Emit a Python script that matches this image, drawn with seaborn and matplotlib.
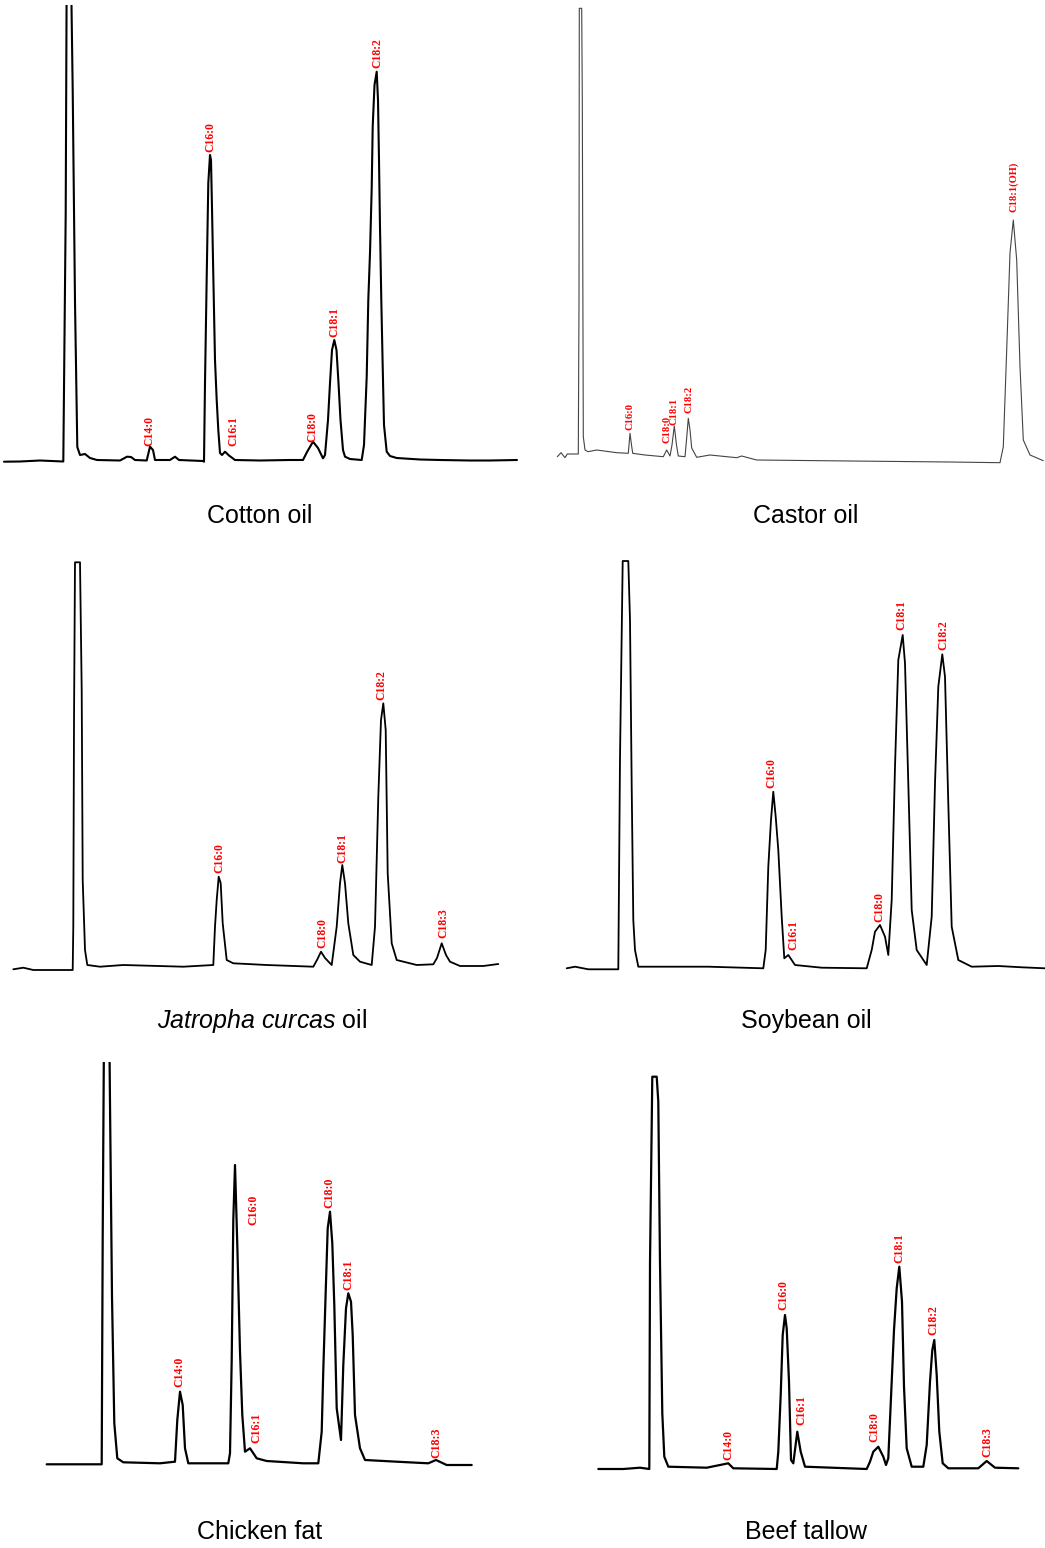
"""Six GC-FID chromatograms of fatty-acid methyl esters (2 x 3 grid)."""
import matplotlib.pyplot as plt
import pandas as pd
import seaborn as sns

W, H = 1045, 1548  # output size in pixels (dpi 100)

# --- Cotton oil ------------------------------------------------------------ #
cotton_rt = [4, 20, 40, 63.3, 65.7, 66.7, 71, 72.7, 75, 77.3, 80, 85, 90, 97,
             120, 127, 131, 135, 146.7, 150, 153, 155, 170, 175, 179, 203,
             204, 205, 206.7, 208.3, 210, 211, 212, 213.3, 215, 216.7, 218.3,
             220, 222, 225, 229, 235, 260, 290, 303, 307, 313, 318, 323, 325,
             328, 330, 332, 334.3, 336.5, 338.5, 340.5, 343, 345, 350, 361.7,
             364, 366.7, 368.3, 370, 371.7, 372.7, 374.5, 376.7, 378, 379, 380,
             381.3, 382.7, 384, 386.7, 390, 396.7, 420, 440, 470, 490, 517]
cotton_signal = [8.3, 8.5, 9.5, 8.5, 257, 500, 500, 380, 168, 23, 15, 16, 12,
                 10, 9.5, 13.3, 13, 10, 9.5, 23.3, 20, 10, 10, 13.3, 10, 9,
                 8.3, 87, 193, 287, 315, 310, 262, 195, 110, 70, 40, 17, 15,
                 18.3, 14.5, 10, 9.5, 10, 10, 18, 28.3, 22, 11.7, 15, 50, 87,
                 120, 130, 120, 87, 50, 20, 13.3, 11, 10, 25, 93.3, 170, 217,
                 282, 343.3, 385, 398.3, 370, 310, 243, 170, 103.3, 45, 18.3,
                 14, 12, 10.5, 10, 9.5, 9.5, 10]
cotton_peaks = ["C14:0", "C16:0", "C16:1", "C18:0", "C18:1", "C18:2"]
cotton_peak_rt = [149, 210, 233, 312, 334, 377]
cotton_peak_label_y = [24, 318, 24, 28, 133, 402]

# --- Castor oil ------------------------------------------------------------ #
castor_rt = [557.3, 561, 565, 567.3, 578.3, 579, 579.3, 581.7, 582.3, 583.3,
             585, 588, 596.7, 616.7, 628.3, 630, 631.5, 632.7, 645, 663.3,
             666.7, 670, 672, 674.3, 676.5, 678.3, 685, 686.5, 688.3, 690,
             691.7, 696.7, 710, 736.7, 741.7, 756.7, 850, 950, 1000, 1003.3,
             1006.7, 1010, 1013.3, 1016.7, 1020, 1023.3, 1030, 1043.3]
castor_signal = [13.3, 17.3, 12.3, 16, 16, 170, 461.7, 461.7, 370, 33.3, 20,
                 18.3, 20, 17.3, 16.7, 36.7, 25, 16.7, 15, 13.3, 20, 14, 25,
                 44, 25, 14, 13.3, 30, 51.7, 40, 22, 12.7, 15, 12.3, 14, 10,
                 9, 8, 7.3, 23.3, 120, 217, 250, 210, 103.3, 30, 15, 9.3]
castor_peaks = ["C16:0", "C18:0", "C18:1", "C18:2", "C18:1(OH)"]
castor_peak_rt = [630, 667, 674, 689, 1014]
castor_peak_label_y = [40, 27, 45, 57, 258]

# --- Jatropha curcas oil --------------------------------------------------- #
jatropha_rt = [13.3, 23.3, 33.3, 72.7, 73.3, 74, 75, 80, 81.7, 82.7, 85, 87.3,
               100, 123.3, 183.3, 213.3, 215, 216.7, 218.7, 220.7, 222.7,
               226.7, 233.3, 266.7, 313.3, 317, 321, 325, 331.7, 336.7, 340,
               342.3, 345, 348.3, 353.3, 360, 371.7, 375, 378.3, 381, 383.3,
               385.7, 387.7, 391.7, 396.7, 416.7, 433.3, 437, 441.7, 446, 450,
               460, 483.3, 498.3]
jatropha_signal = [5.7, 7.3, 5, 5, 48.3, 252, 412.7, 412.7, 285, 95, 25, 10,
                   8.3, 10, 8.3, 10, 48.3, 75, 98.3, 91.7, 51.7, 15, 11.7, 10,
                   8.3, 15, 23.3, 17, 10, 48.3, 91.7, 110, 91.7, 51.7, 20,
                   13.3, 10, 48.3, 178.3, 255, 271.7, 245, 101.7, 31.7, 15, 10,
                   10.7, 17, 31.7, 20, 13.3, 9, 9, 11]
jatropha_peaks = ["C16:0", "C18:0", "C18:1", "C18:2", "C18:3"]
jatropha_peak_rt = [219, 322, 342, 381, 443]
jatropha_peak_label_y = [102, 27, 112, 275, 37]

# --- Soybean oil ----------------------------------------------------------- #
soybean_rt = [566.7, 575, 588.3, 618.3, 620, 622.7, 628.3, 630, 631.7, 633.3,
              635, 638.3, 708.3, 763.3, 765.7, 768.3, 771, 773.3, 775.7, 778.3,
              781.7, 784.3, 788.3, 795, 821.7, 866.7, 871.7, 875, 880, 885,
              888.3, 891.7, 895, 898.3, 902.7, 905, 908.3, 911.7, 916.7, 926.7,
              931.7, 935, 938.3, 942.3, 945, 948.3, 951.7, 958.3, 971.7, 998.3,
              1021.7, 1045]
soybean_signal = [6.7, 8.3, 5.7, 5.7, 217, 414, 414, 355, 188.3, 55, 25, 8.3,
                  8.3, 6.7, 25, 108.3, 155, 183.3, 158.3, 125, 58.3, 16.7, 20,
                  10, 7.3, 6.7, 25, 43.3, 50, 38.3, 20, 75, 208.3, 315, 340,
                  311.7, 191.7, 65, 25, 10, 58.3, 191.7, 288.3, 320.7, 298.3,
                  171.7, 48.3, 15, 8.3, 9, 7.7, 6.7]
soybean_peaks = ["C16:0", "C16:1", "C18:0", "C18:1", "C18:2"]
soybean_peak_rt = [771, 793, 879, 901, 943]
soybean_peak_label_y = [187, 25, 53, 345, 325]

# --- Chicken fat ----------------------------------------------------------- #
chicken_rt = [46.7, 101.7, 102.7, 104, 109.3, 110, 112, 114.3, 117.3, 123.3,
              160, 175, 177.3, 180, 182.7, 185, 188.3, 228.3, 230, 231.7,
              233.3, 235, 237.3, 240, 242.3, 245, 250, 256.7, 266.7, 303.3,
              318.3, 321.7, 323.3, 325.7, 327.7, 330, 332.3, 334.3, 336.7, 341,
              343.3, 346, 348.3, 351, 352.7, 355, 360, 365, 396.7, 428.3, 436,
              446.7, 471.7]
chicken_signal = [10.7, 10.7, 238.3, 445, 445, 371.7, 178.3, 51.7, 16.7, 12.7,
                  11.7, 13.3, 55, 83.3, 70, 26.7, 11.7, 11.7, 21.7, 115, 255,
                  310, 230, 123.3, 60, 23.3, 26.7, 16.7, 14, 11.7, 11.7, 43.3,
                  105, 183.3, 246.7, 263.3, 231.7, 170, 66.7, 35, 110, 166.7,
                  181.7, 173.3, 140, 60, 26.7, 15, 13.3, 11.7, 15, 10, 10]
chicken_peaks = ["C14:0", "C16:0", "C16:1", "C18:0", "C18:1", "C18:3"]
chicken_peak_rt = [179, 253, 256, 329, 348, 436]
chicken_peak_label_y = [88, 250, 32, 267, 185, 17]

# --- Beef tallow ----------------------------------------------------------- #
beef_rt = [598.3, 623.3, 640, 649.3, 650, 652.3, 656.7, 658.3, 660, 662.3,
           664.3, 668.3, 706.7, 728.3, 733.3, 776.7, 778.3, 780.7, 782.7, 785,
           786.7, 789, 791, 793.3, 797.3, 800.7, 805, 866.7, 870, 873.3, 878.3,
           883.3, 886, 888.3, 891.7, 894, 896.7, 899.3, 902, 904, 906.7, 911.7,
           923.3, 926.7, 930, 932.3, 934.3, 936.7, 939.3, 942.7, 948.3, 978.3,
           986.7, 995, 1018.3]
beef_signal = [6, 6, 7.3, 6, 211.7, 398.3, 398.3, 373.3, 211.7, 61.7, 18.3,
               8.3, 7.3, 11.7, 6.7, 6, 23.3, 80, 140, 160, 146.7, 93.3, 15,
               11.7, 43.3, 23.3, 8.3, 6, 13.3, 23.3, 28.3, 18.3, 10, 16.7, 93.3,
               145, 186.7, 208.3, 173.3, 88.3, 26.7, 8.3, 8.3, 30, 93.3, 125,
               135, 100, 43.3, 11.7, 6.7, 6.7, 14, 7.3, 6.7]
beef_peaks = ["C14:0", "C16:0", "C16:1", "C18:0", "C18:1", "C18:2", "C18:3"]
beef_peak_rt = [728, 783, 801, 874, 899, 933, 987]
beef_peak_label_y = [15, 165, 50, 33, 212, 140, 18]

sns.set_theme(style="white")
plt.rcParams["font.family"] = ["Liberation Sans", "DejaVu Sans"]
plt.rcParams.update({
    "mathtext.fontset": "custom",
    "mathtext.rm": "Liberation Sans",
    "mathtext.it": "Liberation Sans:italic",
})

# box = (x0, x1, y_top, y_floor) in output pixels; caption anchored at baseline
PANELS = [
    dict(caption="Cotton oil", rt=cotton_rt, sig=cotton_signal,
         peaks=cotton_peaks, prt=cotton_peak_rt, py=cotton_peak_label_y,
         box=(0, 530, 5, 470), cap=(260, 523), lw=1.5, color="black", fs=8.4),
    dict(caption="Castor oil", rt=castor_rt, sig=castor_signal,
         peaks=castor_peaks, prt=castor_peak_rt, py=castor_peak_label_y,
         box=(550, 1045, 0, 470), cap=(806, 523), lw=0.8, color="#444444", fs=7.6),
    dict(caption=r"$\it{Jatropha\ curcas}$ oil", rt=jatropha_rt,
         sig=jatropha_signal, peaks=jatropha_peaks, prt=jatropha_peak_rt,
         py=jatropha_peak_label_y, box=(0, 530, 555, 975), cap=(262, 1028),
         lw=1.3, color="black", fs=8.4),
    dict(caption="Soybean oil", rt=soybean_rt, sig=soybean_signal,
         peaks=soybean_peaks, prt=soybean_peak_rt, py=soybean_peak_label_y,
         box=(555, 1045, 555, 975), cap=(806, 1028), lw=1.3, color="black", fs=8.4),
    dict(caption="Chicken fat", rt=chicken_rt, sig=chicken_signal,
         peaks=chicken_peaks, prt=chicken_peak_rt, py=chicken_peak_label_y,
         box=(30, 490, 1062, 1475), cap=(260, 1539), lw=1.6, color="black", fs=8.6),
    dict(caption="Beef tallow", rt=beef_rt, sig=beef_signal,
         peaks=beef_peaks, prt=beef_peak_rt, py=beef_peak_label_y,
         box=(590, 1030, 1062, 1475), cap=(806, 1539), lw=1.6, color="black", fs=8.4),
]


def draw_panel(fig, p):
    x0, x1, ytop, floor = p["box"]
    ax = fig.add_axes([x0 / W, 1 - floor / H, (x1 - x0) / W, (floor - ytop) / H])
    df = pd.DataFrame({"rt": p["rt"], "signal": p["sig"]})
    sns.lineplot(data=df, x="rt", y="signal", sort=False, estimator=None,
                 color=p["color"], linewidth=p["lw"], ax=ax)
    ax.set_xlim(x0, x1)
    ax.set_ylim(0, floor - ytop)
    ax.set_axis_off()
    for name, rt, y in zip(p["peaks"], p["prt"], p["py"]):
        ax.text(rt, y, name, rotation=90, ha="center", va="bottom",
                color="red", fontsize=p["fs"], fontweight="bold",
                family="Liberation Serif", clip_on=False)
    cx, cy = p["cap"]
    fig.text(cx / W, 1 - cy / H, p["caption"], ha="center", va="baseline",
             fontsize=18, color="black")


fig = plt.figure(figsize=(W / 100, H / 100), dpi=100)
fig.patch.set_facecolor("white")
for panel in PANELS:
    draw_panel(fig, panel)

fig.savefig("out.png", dpi=100, facecolor="white")
plt.close(fig)
